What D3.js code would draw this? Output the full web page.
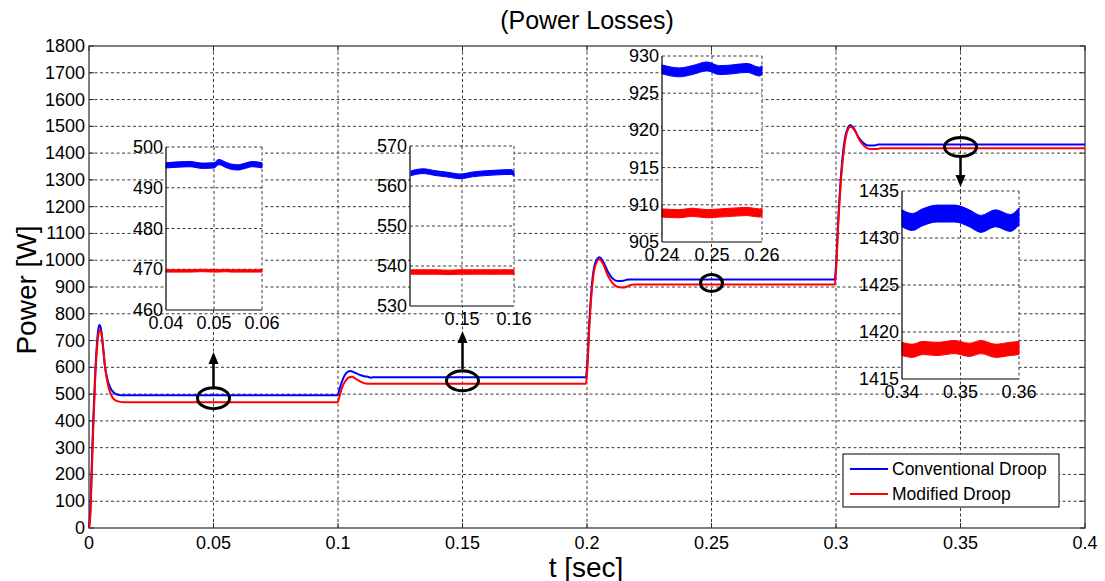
<!DOCTYPE html>
<html>
<head>
<meta charset="utf-8">
<script src="https://cdn.jsdelivr.net/npm/d3@7"></script>
<style>
  html, body { margin: 0; padding: 0; background: #fff; }
  svg { display: block; font-family: Arial, "Liberation Sans", sans-serif; }
</style>
</head>
<body>
<svg id="chart" width="1105" height="581"></svg>
<script>
// ---- main traces: power losses over time (W) ----
const timeConv = [0, 0.0005, 0.001, 0.0017, 0.0025, 0.0032, 0.0037, 0.0042, 0.0048, 0.0056, 0.0064, 0.0074, 0.0084, 0.0095, 0.0105, 0.012, 0.014,
  0.0999, 0.1005, 0.1015, 0.1028, 0.104, 0.105, 0.1065, 0.1085, 0.1105, 0.1125, 0.113, 0.114,
  0.1995, 0.2, 0.201, 0.2022, 0.2035, 0.205, 0.2065, 0.2085, 0.2105, 0.2125, 0.2145, 0.2165,
  0.2995, 0.3, 0.301, 0.3022, 0.3035, 0.3048, 0.3058, 0.307, 0.309, 0.311, 0.313, 0.315, 0.317, 0.4];
const powerConv = [0, 60, 200, 400, 580, 690, 740, 758, 745, 680, 605, 555, 527, 510, 502, 497, 496,
  496, 515, 545, 572, 584, 586, 581, 573, 567, 563, 561, 563,
  563, 600, 780, 930, 995, 1011, 995, 955, 930, 922, 923, 928,
  928, 980, 1170, 1340, 1450, 1495, 1505, 1495, 1460, 1438, 1428, 1428, 1432, 1432];

const timeMod = [0, 0.0005, 0.001, 0.0017, 0.0025, 0.0032, 0.0038, 0.0044, 0.005, 0.0058, 0.0066, 0.0076, 0.0086, 0.0096, 0.0108, 0.0122, 0.014,
  0.0999, 0.1005, 0.1015, 0.103, 0.1045, 0.1055, 0.107, 0.109, 0.111, 0.113,
  0.1995, 0.2, 0.201, 0.2022, 0.2035, 0.205, 0.2065, 0.2085, 0.2105, 0.2125, 0.215, 0.217, 0.219,
  0.2995, 0.3, 0.301, 0.3022, 0.3035, 0.3048, 0.3058, 0.3075, 0.3095, 0.3115, 0.3135, 0.316, 0.318, 0.4];
const powerMod = [0, 40, 170, 370, 560, 670, 725, 740, 728, 660, 590, 536, 503, 485, 476, 472, 470,
  470, 488, 520, 550, 563, 565, 558, 547, 540, 538.5,
  538.5, 575, 760, 915, 985, 1004, 985, 940, 912, 900, 898, 906, 909,
  909, 960, 1150, 1320, 1435, 1488, 1498, 1485, 1448, 1425, 1415, 1415, 1418, 1418];

const seriesNames = ["Conventional Droop", "Modified Droop"];
const seriesColors = ["#0000ff", "#ff0000"];

const xTicks = [0, 0.05, 0.1, 0.15, 0.2, 0.25, 0.3, 0.35, 0.4];
const xTickLabels = ["0", "0.05", "0.1", "0.15", "0.2", "0.25", "0.3", "0.35", "0.4"];
const yTicks = d3.range(0, 1801, 100);

// ---- zoomed windows: steady-state ripple bands (centre value and half-amplitude) ----
const zoom1Time = [0.04, 0.0425, 0.045, 0.0475, 0.05, 0.051, 0.0525, 0.0535, 0.055, 0.0565, 0.058, 0.06];
const zoom1Conv = [495.5, 495.7, 495.8, 495.4, 495.5, 496.3, 495.6, 495.2, 495.0, 495.4, 495.8, 495.5];
const zoom1Mod  = [469.6, 469.6, 469.6, 469.7, 469.6, 469.6, 469.7, 469.6, 469.6, 469.6, 469.6, 469.6];
const zoom1Ripple = [0.65, 0.3];

const zoom2Time = [0.1402, 0.1425, 0.145, 0.1475, 0.1497, 0.152, 0.1545, 0.157, 0.1595, 0.16];
const zoom2Conv = [563.2, 563.7, 563.2, 562.8, 562.4, 562.9, 563.2, 563.4, 563.5, 563.0];
const zoom2Mod  = [538.5, 538.5, 538.5, 538.4, 538.5, 538.5, 538.5, 538.5, 538.5, 538.5];
const zoom2Ripple = [0.6, 0.55];

const zoom3Time = [0.24, 0.2435, 0.246, 0.249, 0.2515, 0.254, 0.257, 0.2595, 0.26];
const zoom3Conv = [928.2, 927.8, 928.1, 928.6, 928.1, 928.2, 928.4, 927.9, 928.1];
const zoom3Mod  = [908.9, 908.8, 909.0, 908.8, 908.9, 909.0, 909.1, 908.9, 909.0];
const zoom3Ripple = [0.6, 0.55];

const zoom4Time = [0.34, 0.3418, 0.3435, 0.346, 0.349, 0.3515, 0.3535, 0.356, 0.3585, 0.36];
const zoom4Conv = [1432.1, 1431.7, 1432.2, 1432.6, 1432.6, 1432.1, 1431.5, 1432.1, 1431.6, 1432.3];
const zoom4Mod  = [1418.2, 1418.0, 1418.3, 1418.2, 1418.4, 1418.1, 1418.4, 1418.0, 1418.2, 1418.3];
const zoom4Ripple = [0.9, 0.7];

const svg = d3.select("#chart");
const FONT = 18;

// ---- main axes ----
const plot = { left: 89, top: 46, right: 1085, bottom: 528 };
const x = d3.scaleLinear().domain([0, 0.4]).range([plot.left, plot.right]);
const y = d3.scaleLinear().domain([0, 1800]).range([plot.bottom, plot.top]);

const gridStyle = g => g.attr("stroke", "#3a3a3a").attr("stroke-width", 1).attr("stroke-dasharray", "3,2.5");

const grid = svg.append("g");
grid.selectAll("line.gx").data(xTicks.slice(1, -1)).join("line")
  .attr("x1", d => x(d)).attr("x2", d => x(d))
  .attr("y1", plot.top).attr("y2", plot.bottom).call(gridStyle);
grid.selectAll("line.gy").data(yTicks.slice(1, -1)).join("line")
  .attr("x1", plot.left).attr("x2", plot.right)
  .attr("y1", d => y(d)).attr("y2", d => y(d)).call(gridStyle);

// box and inward ticks
svg.append("rect").attr("x", plot.left).attr("y", plot.top)
  .attr("width", plot.right - plot.left).attr("height", plot.bottom - plot.top)
  .attr("fill", "none").attr("stroke", "#2b2b2b").attr("stroke-width", 1.2);

const tickLen = 5;
const ticks = svg.append("g").attr("stroke", "#2b2b2b").attr("stroke-width", 1);
xTicks.forEach(t => {
  ticks.append("line").attr("x1", x(t)).attr("x2", x(t)).attr("y1", plot.bottom).attr("y2", plot.bottom - tickLen);
  ticks.append("line").attr("x1", x(t)).attr("x2", x(t)).attr("y1", plot.top).attr("y2", plot.top + tickLen);
});
yTicks.forEach(v => {
  ticks.append("line").attr("x1", plot.left).attr("x2", plot.left + tickLen).attr("y1", y(v)).attr("y2", y(v));
  ticks.append("line").attr("x1", plot.right).attr("x2", plot.right - tickLen).attr("y1", y(v)).attr("y2", y(v));
});

svg.append("g").selectAll("text").data(xTicks).join("text")
  .attr("x", d => x(d)).attr("y", plot.bottom + 15)
  .attr("text-anchor", "middle").attr("dominant-baseline", "central")
  .attr("font-size", FONT).text((d, i) => xTickLabels[i]);
svg.append("g").selectAll("text").data(yTicks).join("text")
  .attr("x", plot.left - 4).attr("y", d => y(d))
  .attr("text-anchor", "end").attr("dominant-baseline", "central")
  .attr("font-size", FONT).text(d => d);

// titles
svg.append("text").attr("x", 587).attr("y", 20).attr("text-anchor", "middle")
  .attr("dominant-baseline", "central").attr("font-size", 25).text("(Power Losses)");
svg.append("text").attr("x", 586).attr("y", 567).attr("text-anchor", "middle")
  .attr("dominant-baseline", "central").attr("font-size", 28).text("t [sec]");
svg.append("text").attr("transform", "translate(26,290) rotate(-90)").attr("text-anchor", "middle")
  .attr("dominant-baseline", "central").attr("font-size", 28).text("Power [W]");

// main traces
const line = d3.line().x(d => x(d[0])).y(d => y(d[1])).curve(d3.curveMonotoneX);
const traces = [d3.zip(timeConv, powerConv), d3.zip(timeMod, powerMod)];
traces.forEach((pts, i) => {
  svg.append("path").datum(pts).attr("d", line)
    .attr("fill", "none").attr("stroke", seriesColors[i]).attr("stroke-width", 2)
    .attr("stroke-linejoin", "round");
});

// ---- markers: ellipses and arrows pointing to the zoom windows ----
const markers = [
  { t: 0.05, p: 485, rx: 16, ry: 10.5 },
  { t: 0.15, p: 550, rx: 16, ry: 10 },
  { t: 0.25, p: 915, rx: 11, ry: 8.5 },
  { t: 0.35, p: 1423, rx: 16, ry: 9.5 }
];
markers.forEach(m => {
  svg.append("ellipse").attr("cx", x(m.t)).attr("cy", y(m.p)).attr("rx", m.rx).attr("ry", m.ry)
    .attr("fill", "none").attr("stroke", "#000").attr("stroke-width", 3);
});
const arrows = [
  { t: 0.05, from: 387, to: 352 },
  { t: 0.15, from: 369, to: 331 },
  { t: 0.35, from: 157, to: 187 }
];
arrows.forEach(a => {
  const ax = x(a.t), dir = a.to < a.from ? -1 : 1;
  svg.append("line").attr("x1", ax).attr("x2", ax).attr("y1", a.from).attr("y2", a.to - dir * 8)
    .attr("stroke", "#000").attr("stroke-width", 2.5);
  svg.append("path")
    .attr("d", `M${ax},${a.to} L${ax - 5},${a.to - dir * 12} L${ax + 5},${a.to - dir * 12} Z`)
    .attr("fill", "#000");
});

// ---- zoom windows ----
const insets = [
  { box: [166, 147, 262, 310], xd: [0.04, 0.06], yd: [460, 500],
    xt: [0.04, 0.05, 0.06], xl: ["0.04", "0.05", "0.06"], yt: [460, 470, 480, 490, 500],
    time: zoom1Time, series: [zoom1Conv, zoom1Mod], ripple: zoom1Ripple },
  { box: [410, 146, 514, 306], xd: [0.14, 0.16], yd: [530, 570],
    xt: [0.15, 0.16], xl: ["0.15", "0.16"], yt: [530, 540, 550, 560, 570],
    time: zoom2Time, series: [zoom2Conv, zoom2Mod], ripple: zoom2Ripple },
  { box: [662, 56, 762, 242], xd: [0.24, 0.26], yd: [905, 930],
    xt: [0.24, 0.25, 0.26], xl: ["0.24", "0.25", "0.26"], yt: [905, 910, 915, 920, 925, 930],
    time: zoom3Time, series: [zoom3Conv, zoom3Mod], ripple: zoom3Ripple },
  { box: [902, 191, 1019, 379], xd: [0.34, 0.36], yd: [1415, 1435],
    xt: [0.34, 0.35, 0.36], xl: ["0.34", "0.35", "0.36"], yt: [1415, 1420, 1425, 1430, 1435],
    time: zoom4Time, series: [zoom4Conv, zoom4Mod], ripple: zoom4Ripple }
];

insets.forEach(ins => {
  const [l, t, r, b] = ins.box;
  const ix = d3.scaleLinear().domain(ins.xd).range([l, r]);
  const iy = d3.scaleLinear().domain(ins.yd).range([b, t]);
  const g = svg.append("g");
  g.append("rect").attr("x", l).attr("y", t).attr("width", r - l).attr("height", b - t).attr("fill", "#fff");

  // grid, including the upper and right limits
  const gx = [0.5, 1].map(f => ins.xd[0] + f * (ins.xd[1] - ins.xd[0]));
  gx.forEach(v => g.append("line").attr("x1", ix(v)).attr("x2", ix(v)).attr("y1", t).attr("y2", b).call(gridStyle));
  ins.yt.filter(v => v > ins.yd[0]).forEach(v =>
    g.append("line").attr("x1", l).attr("x2", r).attr("y1", iy(v)).attr("y2", iy(v)).call(gridStyle));

  // ripple bands
  ins.series.forEach((vals, si) => {
    const half = ins.ripple[si];
    const area = d3.area().x((d, k) => ix(ins.time[k])).y0(d => iy(d - half)).y1(d => iy(d + half))
      .curve(d3.curveMonotoneX);
    g.append("path").datum(vals).attr("d", area).attr("fill", seriesColors[si])
      .attr("stroke", seriesColors[si]).attr("stroke-width", 1);
  });

  // left and bottom axis lines
  g.append("line").attr("x1", l).attr("x2", l).attr("y1", t).attr("y2", b).attr("stroke", "#000").attr("stroke-width", 1.2);
  g.append("line").attr("x1", l).attr("x2", r).attr("y1", b).attr("y2", b).attr("stroke", "#000").attr("stroke-width", 1.2);

  g.selectAll("text.yl").data(ins.yt).join("text")
    .attr("x", l - 3).attr("y", d => iy(d)).attr("text-anchor", "end")
    .attr("dominant-baseline", "central").attr("font-size", FONT).text(d => d);
  g.selectAll("text.xl").data(ins.xt).join("text")
    .attr("x", d => ix(d)).attr("y", b + 13).attr("text-anchor", "middle")
    .attr("dominant-baseline", "central").attr("font-size", FONT).text((d, k) => ins.xl[k]);
});

// ---- legend ----
const leg = svg.append("g");
leg.append("rect").attr("x", 843).attr("y", 454).attr("width", 216).attr("height", 53)
  .attr("fill", "#fff").attr("stroke", "#000").attr("stroke-width", 1);
seriesNames.forEach((name, i) => {
  const ly = 469 + i * 25;
  leg.append("line").attr("x1", 850).attr("x2", 888).attr("y1", ly).attr("y2", ly)
    .attr("stroke", seriesColors[i]).attr("stroke-width", 2);
  leg.append("text").attr("x", 892).attr("y", ly).attr("dominant-baseline", "central")
    .attr("font-size", 17.5).text(name);
});
</script>
</body>
</html>
